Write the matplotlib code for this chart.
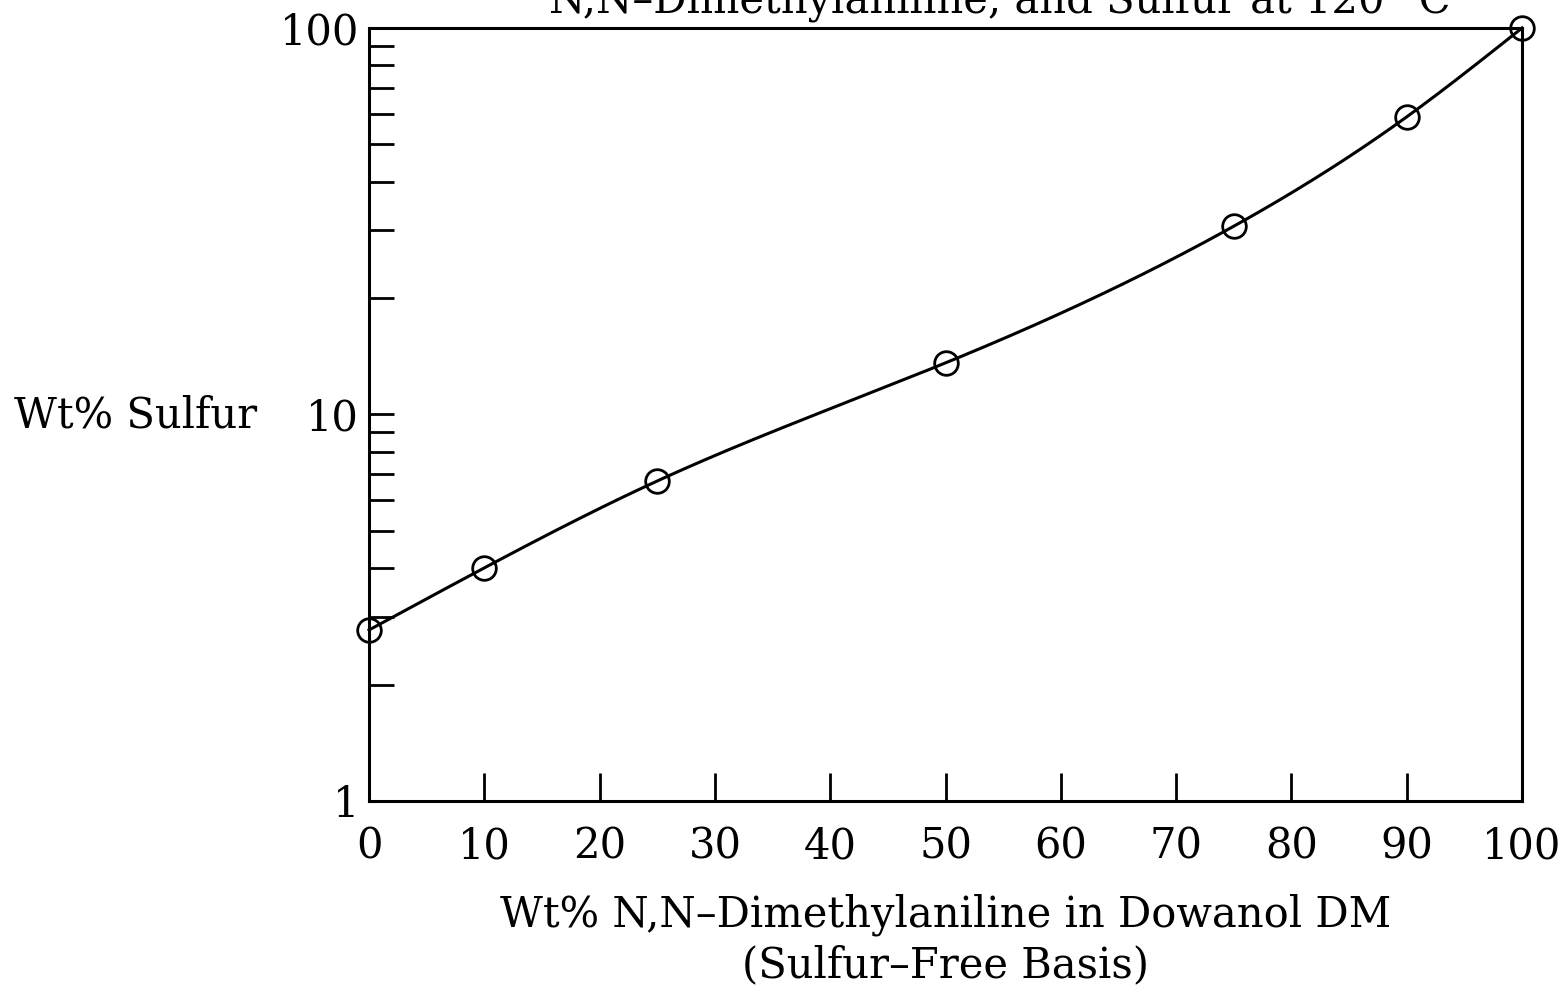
import numpy as np
import matplotlib
matplotlib.use("Agg")
import matplotlib.pyplot as plt
from matplotlib.ticker import FixedLocator, NullFormatter

# Data
wt_dma = [0, 10, 25, 50, 75, 90, 100]
wt_sulfur = [2.77, 4.01, 6.73, 13.6, 30.7, 58.9, 100.0]
x_ticks = [0, 10, 20, 30, 40, 50, 60, 70, 80, 90, 100]
y_major = [1, 10, 100]
y_labels = ["1", "10", "100"]
title = "N,N\u2013Dimethylaniline, and Sulfur at 120\u00b0 C"
xlabel1 = "Wt% N,N\u2013Dimethylaniline in Dowanol DM"
xlabel2 = "(Sulfur\u2013Free Basis)"
ylabel = "Wt% Sulfur"


def natural_spline(x, y, xs):
    x = np.asarray(x, float)
    y = np.asarray(y, float)
    n = len(x)
    h = np.diff(x)
    A = np.zeros((n, n))
    b = np.zeros(n)
    A[0, 0] = 1
    A[-1, -1] = 1
    for i in range(1, n - 1):
        A[i, i - 1] = h[i - 1]
        A[i, i] = 2 * (h[i - 1] + h[i])
        A[i, i + 1] = h[i]
        b[i] = 6 * ((y[i + 1] - y[i]) / h[i] - (y[i] - y[i - 1]) / h[i - 1])
    M = np.linalg.solve(A, b)
    out = np.empty_like(xs)
    for k, xv in enumerate(xs):
        i = min(np.searchsorted(x, xv, side="right") - 1, n - 2)
        t1 = x[i + 1] - xv
        t0 = xv - x[i]
        out[k] = (M[i] * t1 ** 3 + M[i + 1] * t0 ** 3) / (6 * h[i]) \
            + (y[i] / h[i] - M[i] * h[i] / 6) * t1 \
            + (y[i + 1] / h[i] - M[i + 1] * h[i] / 6) * t0
    return out


fs = 30
plt.rcParams['font.family'] = ['DejaVu Serif']

fig = plt.figure(figsize=(15.63, 9.89), dpi=100)
ax = fig.add_axes([0.2361, 0.1901, 0.7377, 0.7816])

xs = np.linspace(0, 100, 400)
ys = 10 ** natural_spline(wt_dma, np.log10(wt_sulfur), xs)
ax.plot(xs, ys, color='black', lw=2.2, clip_on=False, zorder=3)
ax.plot(wt_dma, wt_sulfur, linestyle='none', marker='o', ms=17, mfc='none',
        mec='black', mew=2.0, clip_on=False, zorder=4)

ax.set_yscale('log')
ax.set_xlim(0, 100)
ax.set_ylim(1, 100)

ax.xaxis.set_major_locator(FixedLocator(x_ticks))
ax.set_xticklabels([str(t) for t in x_ticks])
ax.yaxis.set_major_locator(FixedLocator(y_major))
ax.set_yticklabels(y_labels)
minor = [m * d for d in (1, 10) for m in range(2, 10)]
ax.yaxis.set_minor_locator(FixedLocator(minor))
ax.yaxis.set_minor_formatter(NullFormatter())

ax.tick_params(axis='both', which='both', direction='in', top=False, right=False,
               width=2, labelsize=fs, colors='black')
ax.tick_params(axis='x', which='major', length=20, pad=18)
ax.tick_params(axis='y', which='major', length=18, pad=7)
ax.tick_params(axis='y', which='minor', length=18)
ax.tick_params(axis='x', which='minor', length=0)

for s in ax.spines.values():
    s.set_linewidth(2.2)
    s.set_color('black')

fig.text(14 / 1563, 1 - 415 / 989, ylabel, fontsize=fs, ha='left', va='center')
fig.text(946 / 1563, 1 - 915 / 989, xlabel1, fontsize=fs, ha='center', va='center')
fig.text(946 / 1563, 1 - 965 / 989, xlabel2, fontsize=fs, ha='center', va='center')
fig.text(1000 / 1563, 1 - 12 / 989, title, fontsize=fs, ha='center', va='baseline')

fig.savefig('out.png', dpi=100)
